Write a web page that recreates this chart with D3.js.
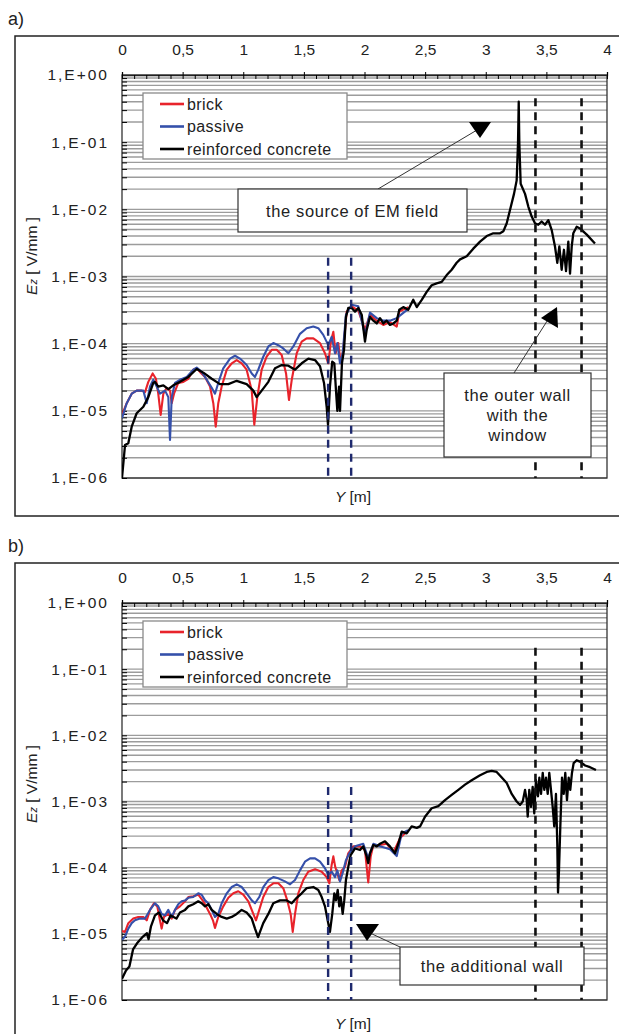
<!DOCTYPE html>
<html>
<head>
<meta charset="utf-8">
<script src="https://cdn.jsdelivr.net/npm/d3@7"></script>
<style>
  body { margin: 0; background: #fff; }
  svg { display: block; font-family: "Liberation Sans", Arial, sans-serif; }
</style>
</head>
<body>
<script>
// ---- data (Y in m, Ez in V/mm) ----
var xTicks = [0, 0.5, 1, 1.5, 2, 2.5, 3, 3.5, 4];
var yDecades = [1e-6, 1e-5, 1e-4, 1e-3, 1e-2, 1e-1, 1];
var yTickLabels = ['1,E-06', '1,E-05', '1,E-04', '1,E-03', '1,E-02', '1,E-01', '1,E+00'];
var seriesNames = ['brick', 'passive', 'reinforced concrete'];

// a) outer wall with window
var topBrick = [[0,8.7e-6],[0.039,1.3e-5],[0.08,1.8e-5],[0.121,2.0e-5],[0.162,2.0e-5],[0.19,1.9e-5],[0.217,2.7e-5],[0.253,3.6e-5],[0.28,3.0e-5],[0.299,1.8e-5],[0.319,8.7e-6],[0.341,1.8e-5],[0.369,2.2e-5],[0.396,2.0e-5],[0.41,1.3e-5],[0.429,1.8e-5],[0.464,2.6e-5],[0.506,2.7e-5],[0.547,3.0e-5],[0.588,4.1e-5],[0.616,4.3e-5],[0.643,3.8e-5],[0.685,3.2e-5],[0.726,2.3e-5],[0.753,1.3e-5],[0.773,5.8e-6],[0.794,1.3e-5],[0.822,2.3e-5],[0.864,4.1e-5],[0.905,5.1e-5],[0.946,5.7e-5],[0.987,5.1e-5],[1.028,4.1e-5],[1.07,2.0e-5],[1.091,6.2e-6],[1.116,1.6e-5],[1.152,4.1e-5],[1.193,6.4e-5],[1.235,8.1e-5],[1.276,8.1e-5],[1.317,6.8e-5],[1.353,3.6e-5],[1.377,1.45e-5],[1.4,2.9e-5],[1.441,7.2e-5],[1.482,1.07e-4],[1.523,1.2e-4],[1.578,1.2e-4],[1.633,1.02e-4],[1.674,7.2e-5],[1.701,5.1e-5],[1.724,1.1e-4],[1.743,1.5e-4],[1.762,7.2e-5],[1.784,1.02e-4],[1.804,5.1e-5],[1.825,8.1e-5],[1.853,3.0e-4],[1.894,3.6e-4],[1.949,3.1e-4],[2.004,1.6e-4],[2.045,2.7e-4],[2.101,2.2e-4],[2.155,1.9e-4],[2.21,2.1e-4],[2.266,1.8e-4],[2.287,3.0e-4],[2.361,3.5e-4]];
var topPassive = [[0,7.8e-6],[0.039,1.3e-5],[0.08,1.8e-5],[0.121,2.0e-5],[0.176,2.0e-5],[0.204,1.3e-5],[0.231,2.3e-5],[0.258,2.9e-5],[0.286,2.3e-5],[0.313,1.8e-5],[0.355,2.0e-5],[0.382,1.6e-5],[0.396,3.7e-6],[0.41,1.6e-5],[0.437,2.6e-5],[0.478,2.9e-5],[0.534,3.2e-5],[0.588,4.1e-5],[0.616,4.4e-5],[0.657,3.8e-5],[0.699,2.9e-5],[0.74,2.2e-5],[0.767,1.8e-5],[0.794,2.6e-5],[0.835,4.3e-5],[0.891,6.0e-5],[0.932,6.6e-5],[0.973,6.0e-5],[1.028,4.8e-5],[1.07,3.6e-5],[1.097,3.2e-5],[1.124,4.1e-5],[1.165,6.4e-5],[1.207,9.1e-5],[1.248,1.02e-4],[1.289,9.5e-5],[1.33,8.5e-5],[1.372,7.2e-5],[1.413,9.1e-5],[1.468,1.4e-4],[1.523,1.7e-4],[1.578,1.8e-4],[1.619,1.7e-4],[1.66,1.35e-4],[1.701,9.5e-5],[1.729,1.26e-4],[1.757,7.2e-5],[1.776,1.02e-4],[1.798,5.1e-5],[1.82,7.2e-5],[1.847,2.7e-4],[1.894,3.8e-4],[1.949,3.6e-4],[2.004,1.35e-4],[2.045,2.9e-4],[2.101,2.4e-4],[2.155,2.2e-4],[2.21,2.2e-4],[2.266,2.4e-4],[2.361,3.3e-4]];
var topConcrete = [[0,1.0e-6],[0.025,3.1e-6],[0.052,3.3e-6],[0.08,5.8e-6],[0.121,9.2e-6],[0.176,1.15e-5],[0.217,1.6e-5],[0.258,2.6e-5],[0.272,2.7e-5],[0.299,2.3e-5],[0.341,2.4e-5],[0.382,2.1e-5],[0.423,2.4e-5],[0.478,2.7e-5],[0.547,3.2e-5],[0.616,4.2e-5],[0.671,3.7e-5],[0.74,3.0e-5],[0.808,2.5e-5],[0.877,2.5e-5],[0.946,2.8e-5],[1.028,2.5e-5],[1.083,2.0e-5],[1.111,1.6e-5],[1.152,2.0e-5],[1.207,2.7e-5],[1.262,4.3e-5],[1.317,4.8e-5],[1.372,4.7e-5],[1.427,4.1e-5],[1.482,5.1e-5],[1.537,6.0e-5],[1.592,5.7e-5],[1.633,4.6e-5],[1.666,2.6e-5],[1.688,1.15e-5],[1.699,6.2e-6],[1.715,2.3e-5],[1.734,5.4e-5],[1.751,5.1e-5],[1.765,2.0e-5],[1.776,1.0e-5],[1.79,2.3e-5],[1.798,1.0e-5],[1.814,5.1e-5],[1.831,8.1e-5],[1.847,2.5e-4],[1.866,3.4e-4],[1.894,3.4e-4],[1.922,3.0e-4],[1.949,3.4e-4],[1.977,2.7e-4],[2.004,1.07e-4],[2.018,1.6e-4],[2.045,2.5e-4],[2.073,2.2e-4],[2.101,2.0e-4],[2.128,2.4e-4],[2.155,2.0e-4],[2.183,2.2e-4],[2.21,1.9e-4],[2.238,2.0e-4],[2.266,2.2e-4],[2.287,3.2e-4],[2.32,3.5e-4],[2.361,3.2e-4],[2.402,4.5e-4],[2.431,3.5e-4],[2.472,4.5e-4],[2.513,5.9e-4],[2.554,7.4e-4],[2.595,7.9e-4],[2.637,8.3e-4],[2.678,1.05e-3],[2.719,1.26e-3],[2.76,1.6e-3],[2.788,1.8e-3],[2.843,2.0e-3],[2.897,2.6e-3],[2.953,3.3e-3],[3.008,4.0e-3],[3.062,4.4e-3],[3.118,4.4e-3],[3.145,4.7e-3],[3.173,6.2e-3],[3.2,9.8e-3],[3.233,1.7e-2],[3.255,2.7e-2],[3.266,9.6e-2],[3.272,0.40],[3.277,9.6e-2],[3.288,2.4e-2],[3.324,1.7e-2],[3.351,1.1e-2],[3.379,7.8e-3],[3.406,6.2e-3],[3.433,5.9e-3],[3.461,6.6e-3],[3.489,5.9e-3],[3.516,6.9e-3],[3.544,4.9e-3],[3.571,2.8e-3],[3.59,1.6e-3],[3.607,2.8e-3],[3.626,1.26e-3],[3.645,2.5e-3],[3.662,1.2e-3],[3.681,3.3e-3],[3.695,1.1e-3],[3.709,2.8e-3],[3.722,4.4e-3],[3.75,5.5e-3],[3.777,5.2e-3],[3.833,4.2e-3],[3.901,3.1e-3]];

// b) additional wall
var botBrick = [[0,1.1e-5],[0.025,1.07e-5],[0.052,1.45e-5],[0.093,1.7e-5],[0.134,1.8e-5],[0.176,1.8e-5],[0.204,1.6e-5],[0.231,2.3e-5],[0.264,2.9e-5],[0.291,2.6e-5],[0.313,1.6e-5],[0.327,1.2e-5],[0.346,1.8e-5],[0.382,2.0e-5],[0.41,1.7e-5],[0.437,2.3e-5],[0.478,2.6e-5],[0.52,3.1e-5],[0.547,3.6e-5],[0.588,3.7e-5],[0.629,3.9e-5],[0.671,3.1e-5],[0.726,2.0e-5],[0.75,1.6e-5],[0.767,1.23e-5],[0.794,1.8e-5],[0.835,2.6e-5],[0.877,3.5e-5],[0.918,4.1e-5],[0.959,4.4e-5],[1.0,3.9e-5],[1.042,3.1e-5],[1.083,2.0e-5],[1.105,1.6e-5],[1.132,2.3e-5],[1.165,3.6e-5],[1.207,5.1e-5],[1.248,5.8e-5],[1.289,5.8e-5],[1.33,4.9e-5],[1.363,3.2e-5],[1.391,2.0e-5],[1.408,1.07e-5],[1.427,2.0e-5],[1.454,4.1e-5],[1.495,6.5e-5],[1.536,8.7e-5],[1.592,9.5e-5],[1.647,8.7e-5],[1.688,7.2e-5],[1.71,5.8e-5],[1.729,1.1e-4],[1.743,1.48e-4],[1.759,1.02e-4],[1.776,8.3e-5],[1.792,6.5e-5],[1.812,9.1e-5],[1.839,1.02e-4],[1.866,1.65e-4],[1.908,2.1e-4],[1.963,2.1e-4],[2.004,1.85e-4],[2.018,1.02e-4],[2.031,6.0e-5],[2.051,1.48e-4],[2.073,2.2e-4],[2.128,2.2e-4],[2.183,2.3e-4],[2.238,1.7e-4],[2.293,2.8e-4],[2.348,3.5e-4]];
var botPassive = [[0,8.1e-6],[0.025,9.1e-6],[0.052,1.2e-5],[0.08,1.45e-5],[0.107,1.6e-5],[0.148,1.7e-5],[0.19,1.7e-5],[0.231,2.3e-5],[0.272,2.9e-5],[0.299,2.6e-5],[0.327,2.0e-5],[0.355,1.9e-5],[0.382,2.3e-5],[0.41,1.8e-5],[0.437,2.3e-5],[0.464,2.8e-5],[0.492,3.1e-5],[0.52,3.2e-5],[0.547,3.5e-5],[0.588,3.6e-5],[0.629,4.1e-5],[0.657,3.9e-5],[0.685,3.2e-5],[0.712,2.9e-5],[0.74,2.3e-5],[0.767,1.8e-5],[0.794,2.0e-5],[0.822,2.9e-5],[0.864,4.1e-5],[0.905,5.1e-5],[0.946,5.6e-5],[0.987,5.1e-5],[1.028,4.1e-5],[1.07,3.2e-5],[1.097,2.9e-5],[1.132,3.6e-5],[1.165,5.1e-5],[1.207,6.5e-5],[1.248,7.2e-5],[1.289,6.9e-5],[1.344,6.2e-5],[1.386,5.6e-5],[1.427,6.5e-5],[1.468,9.1e-5],[1.509,1.23e-4],[1.551,1.38e-4],[1.592,1.38e-4],[1.633,1.23e-4],[1.674,9.8e-5],[1.701,7.8e-5],[1.729,8.7e-5],[1.757,7.2e-5],[1.776,9.1e-5],[1.798,6.2e-5],[1.82,8.3e-5],[1.847,1.3e-4],[1.875,1.65e-4],[1.922,2.1e-4],[1.99,2.3e-4],[2.031,1.4e-4],[2.073,2.3e-4],[2.128,2.1e-4],[2.21,1.9e-4],[2.266,1.5e-4],[2.307,3.3e-4],[2.359,3.7e-4]];
var botConcrete = [[0,2.1e-6],[0.033,2.8e-6],[0.061,3.2e-6],[0.091,5.8e-6],[0.124,7.2e-6],[0.173,9.1e-6],[0.206,1.02e-5],[0.219,8.3e-6],[0.239,1.3e-5],[0.272,1.9e-5],[0.305,2.1e-5],[0.338,1.6e-5],[0.371,1.45e-5],[0.401,1.9e-5],[0.449,1.7e-5],[0.478,2.1e-5],[0.52,2.3e-5],[0.547,2.6e-5],[0.588,2.8e-5],[0.629,3.1e-5],[0.657,2.9e-5],[0.685,2.6e-5],[0.712,2.8e-5],[0.74,2.3e-5],[0.781,2.0e-5],[0.822,1.8e-5],[0.864,1.7e-5],[0.905,1.8e-5],[0.946,2.0e-5],[0.987,2.3e-5],[1.028,2.1e-5],[1.07,1.7e-5],[1.097,1.2e-5],[1.122,8.9e-6],[1.165,1.45e-5],[1.207,2.0e-5],[1.248,2.9e-5],[1.303,3.2e-5],[1.358,3.2e-5],[1.4,2.9e-5],[1.441,3.5e-5],[1.482,4.1e-5],[1.523,4.9e-5],[1.578,5.1e-5],[1.619,4.6e-5],[1.647,3.6e-5],[1.674,2.6e-5],[1.701,1.45e-5],[1.715,1.07e-5],[1.734,2.0e-5],[1.751,4.1e-5],[1.765,3.2e-5],[1.779,4.6e-5],[1.792,2.6e-5],[1.804,3.6e-5],[1.82,2.0e-5],[1.833,3.2e-5],[1.847,6.5e-5],[1.866,1.02e-4],[1.886,1.55e-4],[1.922,1.95e-4],[1.963,1.85e-4],[1.99,2.1e-4],[2.018,1.48e-4],[2.031,1.17e-4],[2.045,1.65e-4],[2.073,2.2e-4],[2.101,2.1e-4],[2.128,2.3e-4],[2.169,2.5e-4],[2.21,2.1e-4],[2.252,1.65e-4],[2.279,2.3e-4],[2.307,3.5e-4],[2.348,3.3e-4],[2.389,4.2e-4],[2.431,4.0e-4],[2.458,4.2e-4],[2.499,5.9e-4],[2.554,7.9e-4],[2.609,8.5e-4],[2.664,1.05e-3],[2.719,1.26e-3],[2.774,1.5e-3],[2.829,1.8e-3],[2.884,2.1e-3],[2.953,2.5e-3],[3.008,2.8e-3],[3.049,2.9e-3],[3.09,2.8e-3],[3.132,2.3e-3],[3.173,1.9e-3],[3.214,1.3e-3],[3.255,1.0e-3],[3.283,8.9e-4],[3.305,1.0e-3],[3.324,1.5e-3],[3.338,1.05e-3],[3.346,5.9e-4],[3.359,1.5e-3],[3.373,8.3e-4],[3.387,1.66e-3],[3.4,6.6e-4],[3.414,2.1e-3],[3.431,1.2e-3],[3.442,2.3e-3],[3.456,1.3e-3],[3.47,2.7e-3],[3.483,1.5e-3],[3.497,2.3e-3],[3.511,1.3e-3],[3.524,2.7e-3],[3.538,1.5e-3],[3.552,8.3e-4],[3.565,4.2e-4],[3.579,1.3e-3],[3.59,2.3e-4],[3.596,4.2e-5],[3.604,9.1e-5],[3.615,4.2e-4],[3.629,2.3e-3],[3.643,1.3e-3],[3.656,2.7e-3],[3.67,1.05e-3],[3.684,2.3e-3],[3.697,1.5e-3],[3.711,2.7e-3],[3.725,3.8e-3],[3.75,4.2e-3],[3.777,4.0e-3],[3.819,3.5e-3],[3.86,3.3e-3],[3.909,3.0e-3]];

// wall positions (Y) and the Ez level where the dashed marker starts
var wallLines = [1.7, 1.89];
var windowLines = [3.41, 3.79];
var topWallStart = 1.9e-3, topWindowStart = 0.45;
var botWallStart = 1.66e-3, botWindowStart = 0.21;

// ---- layout ----
var W = 619, H = 1034;
var plotLeft = 122, plotRight = 607;
var colors = ['#e8232b', '#3550aa', '#000000'];

var svg = d3.select('body').append('svg').attr('width', W).attr('height', H);

var panels = [
  {
    label: 'a)', frameTop: 36, frameBottom: 516, plotTop: 75, plotBottom: 478, xTitleY: 502,
    series: [topBrick, topPassive, topConcrete],
    wallStart: topWallStart, windowStart: topWindowStart,
    notes: [
      { box: [238, 189, 229, 43], lines: ['the source of EM field'], from: [378, 189], to: [477, 130],
        tri: [[469, 122], [491, 122], [480, 138]] },
      { box: [444, 373, 147, 84], lines: ['the outer wall', 'with the', 'window'], from: [514, 373], to: [549, 318],
        tri: [[541, 318], [557, 307], [558, 328]] }
    ]
  },
  {
    label: 'b)', frameTop: 563, frameBottom: 1045, plotTop: 603, plotBottom: 1000, xTitleY: 1029,
    series: [botBrick, botPassive, botConcrete],
    wallStart: botWallStart, windowStart: botWindowStart,
    notes: [
      { box: [400, 947, 184, 38], lines: ['the additional wall'], from: [400, 947], to: [370, 933],
        tri: [[356, 924], [379, 924], [367, 941]] }
    ]
  }
];

function fmtX(d) { return String(d).replace('.', ','); }

function drawPanel(p, idx) {
  var x = d3.scaleLinear().domain([0, 4]).range([plotLeft, plotRight]);
  var y = d3.scaleLog().domain([1e-6, 1]).range([p.plotBottom, p.plotTop]);
  var g = svg.append('g');

  // outer frame + panel label
  g.append('rect')
    .attr('x', 15).attr('y', p.frameTop)
    .attr('width', 640).attr('height', p.frameBottom - p.frameTop)
    .attr('fill', 'none').attr('stroke', '#222').attr('stroke-width', 1.5);
  g.append('text')
    .attr('x', 8).attr('y', p.frameTop - 11)
    .attr('font-size', 18).attr('fill', '#222')
    .text(p.label);

  // horizontal grid at every log step
  var gridVals = [];
  for (var e = -6; e < 0; e++) {
    for (var k = 1; k < 10; k++) gridVals.push(k * Math.pow(10, e));
  }
  g.append('g').selectAll('line')
    .data(gridVals)
    .join('line')
    .attr('x1', plotLeft).attr('x2', plotRight)
    .attr('y1', d => y(d)).attr('y2', d => y(d))
    .attr('stroke', '#9c9c9c').attr('stroke-width', 1.4);

  // plot border
  g.append('rect')
    .attr('x', plotLeft).attr('y', p.plotTop)
    .attr('width', plotRight - plotLeft).attr('height', p.plotBottom - p.plotTop)
    .attr('fill', 'none').attr('stroke', '#333').attr('stroke-width', 1.3);

  // top x axis (labels + major ticks upward)
  var xAxis = g.append('g')
    .attr('transform', 'translate(0,' + p.plotTop + ')')
    .call(d3.axisTop(x).tickValues(xTicks).tickFormat(fmtX).tickSize(3).tickPadding(17));
  xAxis.select('.domain').attr('stroke', '#222').attr('stroke-width', 1.3);
  xAxis.selectAll('text').attr('font-size', 15.5).attr('fill', '#222')
    .attr('font-family', '"Liberation Sans", Arial, sans-serif');

  // minor ticks into the plot every 0.1
  g.append('g')
    .attr('transform', 'translate(0,' + p.plotTop + ')')
    .call(d3.axisBottom(x).tickValues(d3.range(0, 41).map(i => i / 10)).tickSize(4).tickFormat(''))
    .call(s => s.select('.domain').remove());

  // left y axis labels
  var yAxis = g.append('g')
    .attr('transform', 'translate(' + plotLeft + ',0)')
    .call(d3.axisLeft(y).tickValues(yDecades)
      .tickFormat((d, i) => yTickLabels[i]).tickSize(0).tickPadding(13));
  yAxis.select('.domain').remove();
  yAxis.selectAll('text').attr('font-size', 15.5).attr('fill', '#222')
    .attr('letter-spacing', 2)
    .attr('font-family', '"Liberation Sans", Arial, sans-serif');

  // small y ticks into the plot
  g.append('g')
    .attr('transform', 'translate(' + plotLeft + ',0)')
    .call(d3.axisRight(y).tickValues(gridVals).tickSize(5).tickFormat(''))
    .call(s => s.select('.domain').remove());

  // clip for data
  var clipId = 'clip' + idx;
  svg.append('clipPath').attr('id', clipId)
    .append('rect')
    .attr('x', plotLeft).attr('y', p.plotTop)
    .attr('width', plotRight - plotLeft).attr('height', p.plotBottom - p.plotTop);

  var line = d3.line().x(d => x(d[0])).y(d => y(d[1]));
  p.series.forEach(function (s, i) {
    g.append('path')
      .datum(s)
      .attr('clip-path', 'url(#' + clipId + ')')
      .attr('fill', 'none')
      .attr('stroke', colors[i])
      .attr('stroke-width', i === 2 ? 2.3 : 2.1)
      .attr('stroke-linejoin', 'round')
      .attr('d', line);
  });

  // dashed wall markers
  g.append('g').selectAll('line')
    .data(wallLines)
    .join('line')
    .attr('x1', d => x(d)).attr('x2', d => x(d))
    .attr('y1', y(p.wallStart)).attr('y2', p.plotBottom)
    .attr('stroke', '#1f2a6e').attr('stroke-width', 2.4).attr('stroke-dasharray', '8,6');
  g.append('g').selectAll('line')
    .data(windowLines)
    .join('line')
    .attr('x1', d => x(d)).attr('x2', d => x(d))
    .attr('y1', y(p.windowStart)).attr('y2', p.plotBottom)
    .attr('stroke', '#111').attr('stroke-width', 2.6).attr('stroke-dasharray', '8,6');

  // legend
  var lg = g.append('g').attr('transform', 'translate(143,' + (p.plotTop + 18) + ')');
  lg.append('rect').attr('width', 204).attr('height', 66)
    .attr('fill', '#fff').attr('stroke', '#8a8a8a').attr('stroke-width', 1.3);
  seriesNames.forEach(function (n, i) {
    var yy = 11 + i * 22.5;
    lg.append('line').attr('x1', 17).attr('x2', 41).attr('y1', yy).attr('y2', yy)
      .attr('stroke', colors[i]).attr('stroke-width', 2.6);
    lg.append('text').attr('x', 44).attr('y', yy + 5.5)
      .attr('font-size', 16).attr('letter-spacing', 0.4).attr('fill', '#222').text(n);
  });

  // annotations
  p.notes.forEach(function (n) {
    g.append('line')
      .attr('x1', n.from[0]).attr('y1', n.from[1])
      .attr('x2', n.to[0]).attr('y2', n.to[1])
      .attr('stroke', '#333').attr('stroke-width', 1);
    g.append('polygon').attr('points', n.tri.map(t => t.join(',')).join(' ')).attr('fill', '#000');
    g.append('rect')
      .attr('x', n.box[0]).attr('y', n.box[1]).attr('width', n.box[2]).attr('height', n.box[3])
      .attr('fill', '#fff').attr('stroke', '#333').attr('stroke-width', 1.2);
    var lh = 20;
    var y0 = n.box[1] + n.box[3] / 2 - (n.lines.length - 1) * lh / 2 + 6;
    n.lines.forEach(function (t, j) {
      g.append('text')
        .attr('x', n.box[0] + n.box[2] / 2).attr('y', y0 + j * lh)
        .attr('text-anchor', 'middle').attr('font-size', 16.5).attr('letter-spacing', 0.6)
        .attr('fill', '#222').text(t);
    });
  });

  // axis titles
  var yt = g.append('text')
    .attr('transform', 'translate(37,' + (p.plotTop + 181) + ') rotate(-90)')
    .attr('text-anchor', 'middle').attr('font-size', 15.5).attr('fill', '#222');
  yt.append('tspan').attr('font-style', 'italic').text('E');
  yt.append('tspan').attr('font-style', 'italic').attr('font-size', 11).text('z');
  yt.append('tspan').text(' [ V/mm ]');

  var xt = g.append('text')
    .attr('x', 353).attr('y', p.xTitleY)
    .attr('text-anchor', 'middle').attr('font-size', 15.5).attr('fill', '#222');
  xt.append('tspan').attr('font-style', 'italic').text('Y');
  xt.append('tspan').text('  [m]');
}

panels.forEach(drawPanel);
</script>
</body>
</html>
